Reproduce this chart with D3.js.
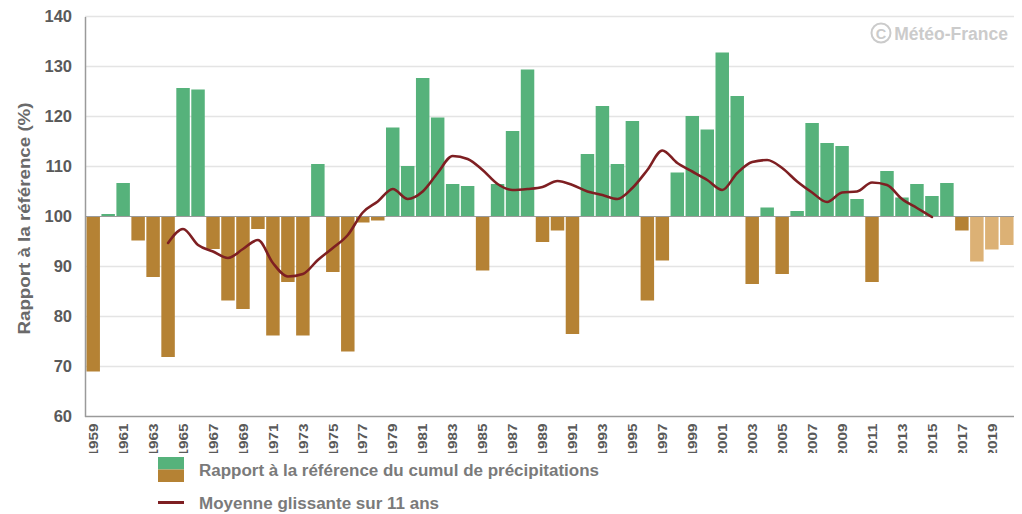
<!DOCTYPE html>
<html>
<head>
<meta charset="utf-8">
<script src="https://cdn.jsdelivr.net/npm/d3@7"></script>
<style>
  html, body { margin: 0; padding: 0; background: #fff; }
  svg { display: block; font-family: "Liberation Sans", Arial, sans-serif; }
</style>
</head>
<body>
<svg id="chart" width="1022" height="514"></svg>
<script>
// Annual precipitation relative to the 1961-1990 reference (%), 1959-2020
const years = d3.range(1959, 2021);
const ratios = [
  69.0, 100.5, 106.7, 95.2, 87.9, 71.9, 125.7, 125.4, 93.5, 83.2,
  81.5, 97.5, 76.2, 86.9, 76.2, 110.5, 88.9, 73.0, 98.8, 99.2,
  117.8, 110.1, 127.7, 119.8, 106.5, 106.1, 89.2, 106.5, 117.1, 129.4,
  94.9, 97.2, 76.5, 112.5, 122.1, 110.5, 119.1, 83.2, 91.2, 108.8,
  120.1, 117.4, 132.8, 124.1, 86.5, 101.8, 88.5, 101.1, 118.7, 114.7,
  114.1, 103.5, 86.9, 109.1, 103.8, 106.5, 104.1, 106.7, 97.2, 91.0,
  93.4, 94.3
];
// Years still flagged as provisional (lighter shade)
const provisionalYears = [2018, 2019, 2020];

// 11-year centred moving average, 1964-2015
const avgYears = d3.range(1964, 2016);
const avgValues = [
  94.7, 97.5, 94.3, 93.0, 91.7, 93.5, 95.3, 90.7, 88.0, 88.5,
  91.3, 93.7, 96.3, 100.8, 103.0, 105.5, 103.5, 105.0, 108.7, 112.1,
  111.5, 109.3, 106.5, 105.3, 105.5, 105.9, 107.1, 106.3, 105.0, 104.3,
  103.5, 105.7, 109.3, 113.2, 110.7, 109.0, 107.3, 105.3, 108.7, 110.9,
  111.3, 109.7, 107.0, 104.8, 102.9, 104.8, 105.0, 106.8, 106.3, 103.5,
  101.7, 99.9
];

const yTicks = [60, 70, 80, 90, 100, 110, 120, 130, 140];
const xTickYears = d3.range(1959, 2021, 2);

const seriesLabel = "Rapport à la référence du cumul de précipitations";
const averageLabel = "Moyenne glissante sur 11 ans";
const yTitle = "Rapport à la référence (%)";

const colors = {
  wet: "#56b27b",
  dry: "#b58234",
  provisional: "#dcb175",
  average: "#7e1f22",
  grid: "#e4e4e4",
  axis: "#9a9a9a",
  label: "#5a5a5a",
  legend: "#7a7a7a",
  mark: "#cbcbcb"
};

const svg = d3.select("#chart");
const margin = { left: 85, right: 8, top: 17, bottom: 98 };
const W = 1022, H = 514;

const x = d3.scaleBand()
  .domain(years)
  .range([margin.left + 1, W - margin.right])
  .paddingInner(0.1)
  .paddingOuter(0.03);

const y = d3.scaleLinear()
  .domain([60, 140])
  .range([H - margin.bottom + 0.5, margin.top - 0.5]);

// Horizontal grid
svg.append("g")
  .selectAll("line")
  .data(yTicks.filter(t => t !== 60 && t !== 100))
  .join("line")
  .attr("x1", margin.left)
  .attr("x2", W - margin.right)
  .attr("y1", d => y(d))
  .attr("y2", d => y(d))
  .attr("stroke", colors.grid)
  .attr("stroke-width", 1.5);

// Bars, drawn from the 100 % reference line
svg.append("g")
  .selectAll("rect")
  .data(years.map((yr, i) => ({ year: yr, value: ratios[i] })))
  .join("rect")
  .attr("x", d => x(d.year))
  .attr("width", x.bandwidth())
  .attr("y", d => y(Math.max(d.value, 100)))
  .attr("height", d => Math.abs(y(d.value) - y(100)))
  .attr("fill", d => provisionalYears.includes(d.year)
    ? colors.provisional
    : (d.value >= 100 ? colors.wet : colors.dry));

// Reference line at 100 %
svg.append("line")
  .attr("x1", margin.left)
  .attr("x2", W - margin.right)
  .attr("y1", y(100))
  .attr("y2", y(100))
  .attr("stroke", colors.axis)
  .attr("stroke-width", 1.2);

// Moving average curve
const line = d3.line()
  .x(d => x(d.year) + x.bandwidth() / 2)
  .y(d => y(d.value))
  .curve(d3.curveMonotoneX);

svg.append("path")
  .datum(avgYears.map((yr, i) => ({ year: yr, value: avgValues[i] })))
  .attr("d", line)
  .attr("fill", "none")
  .attr("stroke", colors.average)
  .attr("stroke-width", 2.6)
  .attr("stroke-linejoin", "round")
  .attr("stroke-linecap", "round");

// Y axis
const yAxis = svg.append("g")
  .attr("transform", `translate(${margin.left},0)`)
  .call(d3.axisLeft(y).tickValues(yTicks).tickSize(0).tickPadding(13));
yAxis.select(".domain")
  .attr("stroke", colors.axis)
  .attr("stroke-width", 1.5);
yAxis.selectAll("text")
  .attr("font-size", 16.5)
  .attr("font-weight", "bold")
  .attr("fill", colors.label);

// Y axis title (glyphs stretched along the baseline)
svg.append("text")
  .attr("transform", `translate(30,${y(100) + 2}) rotate(-90)`)
  .attr("text-anchor", "middle")
  .attr("font-size", 16)
  .attr("font-weight", "bold")
  .attr("fill", "#6a6a6a")
  .attr("textLength", 232)
  .attr("lengthAdjust", "spacingAndGlyphs")
  .text(yTitle);

// X axis with rotated year labels, cut off at the bottom
svg.append("defs").append("clipPath")
  .attr("id", "xlabels-clip")
  .append("rect")
  .attr("x", 0).attr("y", y(60))
  .attr("width", W).attr("height", 453 - y(60));

const xLabelsWrap = svg.append("g").attr("clip-path", "url(#xlabels-clip)");
const xAxis = xLabelsWrap.append("g")
  .attr("transform", `translate(0,${y(60)})`)
  .call(d3.axisBottom(x).tickValues(xTickYears).tickSize(0).tickSizeOuter(0).tickFormat(d3.format("d")));
xAxis.select(".domain").remove();
xAxis.selectAll(".tick text")
  .attr("transform", "rotate(-90)")
  .attr("text-anchor", "end")
  .attr("dy", "0.36em")
  .attr("x", -7)
  .attr("y", 0)
  .attr("font-size", 13)
  .attr("textLength", 34)
  .attr("lengthAdjust", "spacingAndGlyphs")
  .attr("font-weight", "bold")
  .attr("fill", colors.label);

// Bottom axis line
svg.append("line")
  .attr("x1", margin.left).attr("x2", W - margin.right)
  .attr("y1", y(60)).attr("y2", y(60))
  .attr("stroke", colors.axis)
  .attr("stroke-width", 1.5);

// Watermark
const wm = svg.append("g").attr("fill", colors.mark);
wm.append("circle")
  .attr("cx", 881).attr("cy", 33).attr("r", 9.5)
  .attr("fill", "none").attr("stroke", colors.mark).attr("stroke-width", 2);
wm.append("text")
  .attr("x", 881).attr("y", 38.5)
  .attr("text-anchor", "middle")
  .attr("font-size", 14.5).attr("font-weight", "bold")
  .text("C");
wm.append("text")
  .attr("x", 1008).attr("y", 39.5)
  .attr("text-anchor", "end")
  .attr("font-size", 17.5).attr("font-weight", "bold")
  .text("Météo-France");

// Legend
const legend = svg.append("g");
legend.append("rect")
  .attr("x", 158).attr("y", 457).attr("width", 26).attr("height", 12.5)
  .attr("fill", colors.wet);
legend.append("rect")
  .attr("x", 158).attr("y", 469.5).attr("width", 26).attr("height", 12.5)
  .attr("fill", colors.dry);
legend.append("text")
  .attr("x", 199).attr("y", 476)
  .attr("font-size", 16).attr("font-weight", "bold")
  .attr("fill", colors.legend)
  .attr("textLength", 400)
  .attr("lengthAdjust", "spacingAndGlyphs")
  .text(seriesLabel);
legend.append("line")
  .attr("x1", 158).attr("x2", 184).attr("y1", 502.5).attr("y2", 502.5)
  .attr("stroke", colors.average).attr("stroke-width", 3);
legend.append("text")
  .attr("x", 199).attr("y", 508.5)
  .attr("font-size", 16).attr("font-weight", "bold")
  .attr("fill", colors.legend)
  .attr("textLength", 240)
  .attr("lengthAdjust", "spacingAndGlyphs")
  .text(averageLabel);
</script>
</body>
</html>
